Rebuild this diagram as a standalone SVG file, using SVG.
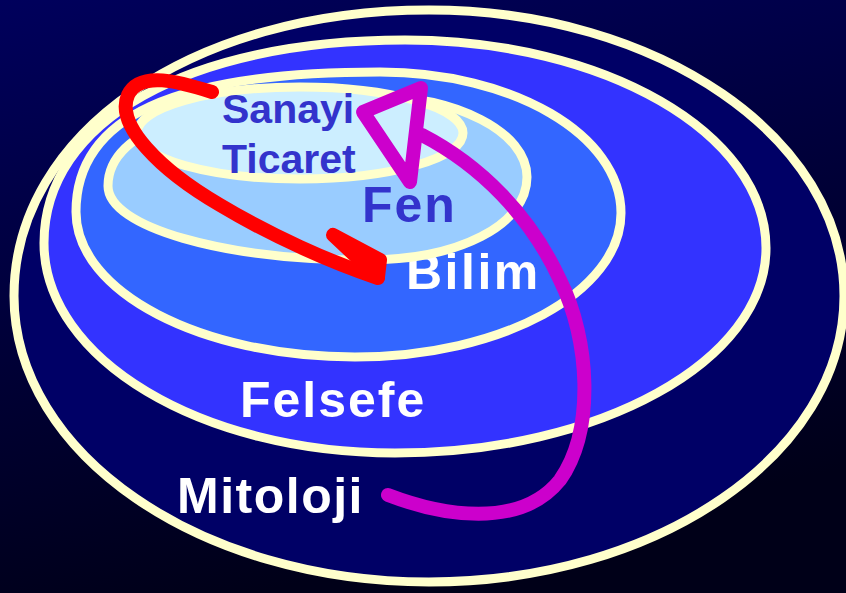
<svg xmlns="http://www.w3.org/2000/svg" width="846" height="593" viewBox="0 0 846 593">
<defs>
<linearGradient id="bg" x1="0" y1="0" x2="0.3" y2="1">
<stop offset="0" stop-color="#00005c"/>
<stop offset="1" stop-color="#000018"/>
</linearGradient>
<style>
.ring{stroke:#ffffcc;stroke-width:9}
.lbl{font-family:"Liberation Sans",Arial,sans-serif;font-weight:bold}
.dark{fill:#3333cc}
.white{fill:#ffffff}
.arrow{fill:none;stroke-linecap:round;stroke-linejoin:round;stroke-width:14}
</style>
</defs>
<rect width="846" height="593" fill="url(#bg)"/>
<g id="mitoloji">
<path class="ring" fill="#000066" d="M14 296 C14 133 192 10 429 10 C658 10 844 138 844 296 C844 454 658 582 429 582 C200 582 14 454 14 296 Z"/>
<text class="lbl white" x="177" y="513" font-size="50" letter-spacing="1.5">Mitoloji</text>
</g>
<g id="felsefe">
<path class="ring" fill="#3333ff" d="M44 243 C44 121 188 40 405 40 C604 40 766 133 766 248 C766 361 600 453 395 453 C201 453 44 359 44 243 Z"/>
<text class="lbl white" x="240" y="417" font-size="50" letter-spacing="2">Felsefe</text>
</g>
<g id="bilim">
<path class="ring" fill="#3366ff" d="M76 212 C76 117 173 72 380 72 C513 72 621 135 621 213 C621 292 502 357 355 357 C201 357 76 292 76 212 Z"/>
<text class="lbl white" x="406" y="289" font-size="50" letter-spacing="2.5">Bilim</text>
</g>
<g id="fen">
<path class="ring" fill="#99ccff" d="M108 186 C108 128 208 96 370 96 C457 96 527 132 527 177 C527 225 459 260 365 260 C223 260 108 227 108 186 Z"/>
<text class="lbl dark" x="362" y="222" font-size="50" letter-spacing="2">Fen</text>
</g>
<g id="sanayi">
<ellipse class="ring" cx="300" cy="133" rx="163" ry="46" fill="#cceeff"/>
<text class="lbl dark" x="222" y="123" font-size="41">Sanayi</text>
<text class="lbl dark" x="222" y="173" font-size="41">Ticaret</text>
</g>
<g id="connectors">
<path class="arrow" stroke="#ff0000" d="M212 92 C180 82 140 70 128 95 C115 125 160 170 220 205 C270 235 330 262 378 278"/>
<polygon class="arrow" stroke="#ff0000" fill="#ff0000" points="333,235 380,260 378,277"/>
<path class="arrow" stroke="#cc00cc" d="M388 495 C440 515 520 530 560 480 C595 430 590 340 560 280 C530 215 480 165 422 135"/>
<polygon class="arrow" stroke="#cc00cc" points="363,112 421,88 410,182"/>
</g>
</svg>
